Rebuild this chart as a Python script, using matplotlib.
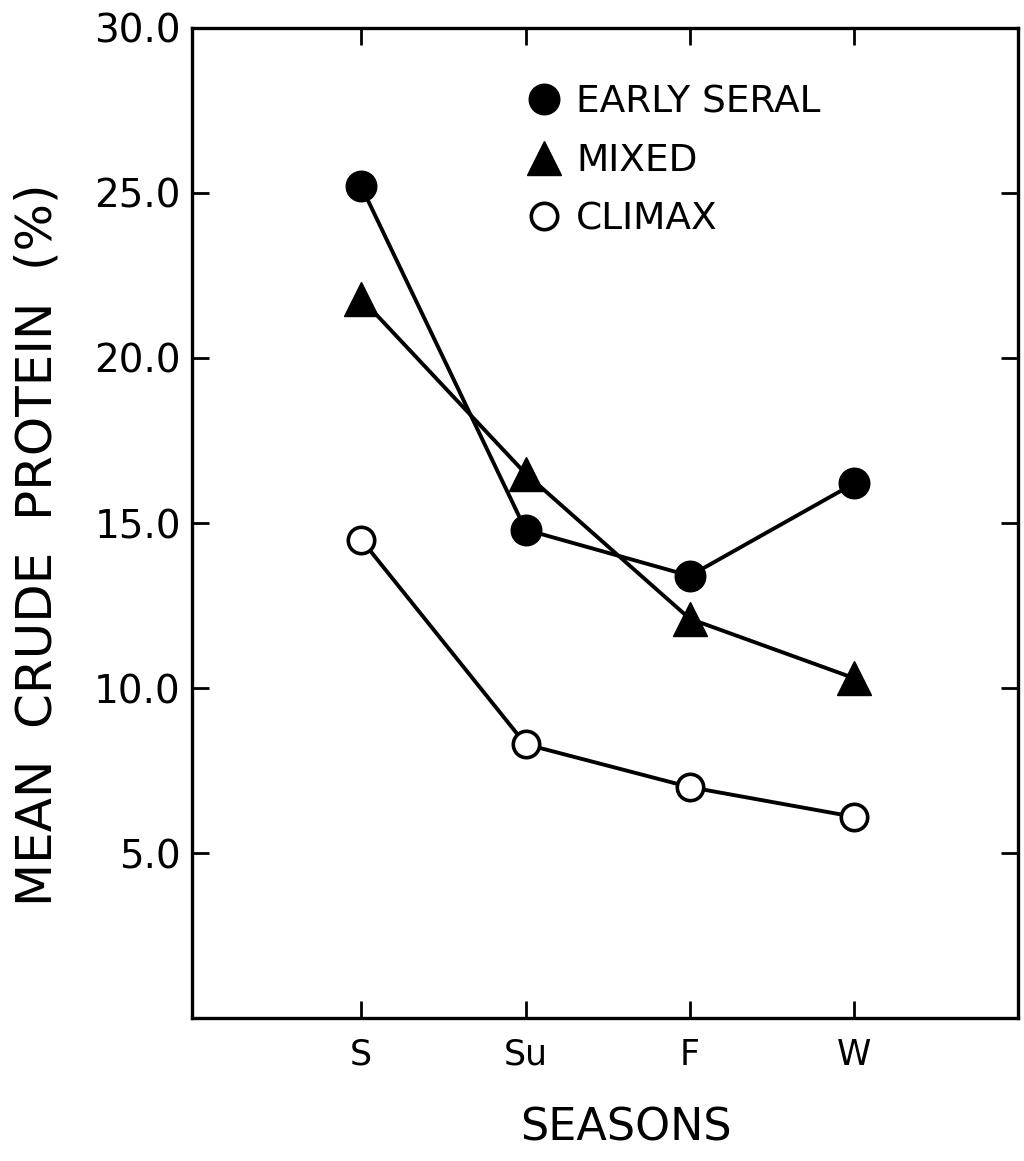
import numpy as np
import matplotlib.pyplot as plt
from matplotlib.lines import Line2D

# Сезони та середній вміст сирого протеїну (%)
seasons = ['S', 'Su', 'F', 'W']
early_seral = [25.2, 14.8, 13.4, 16.2]
mixed = [21.8, 16.5, 12.1, 10.3]
climax = [14.5, 8.3, 7.0, 6.1]

y_ticks = [5.0, 10.0, 15.0, 20.0, 25.0, 30.0]

plt.rcParams['font.family'] = ['DejaVu Sans']

fig = plt.figure(figsize=(10.24, 11.61), dpi=100)
ax = fig.add_axes([0.1875, 0.123, 0.807, 0.853])

x = np.arange(1, len(seasons) + 1)
lw = 2.8
ax.plot(x, early_seral, color='black', lw=lw, marker='o', ms=22,
        mfc='black', mec='black', zorder=3)
ax.plot(x, mixed, color='black', lw=lw, marker='^', ms=24,
        mfc='black', mec='black', zorder=3)
ax.plot(x, climax, color='black', lw=lw, marker='o', ms=19,
        mfc='white', mec='black', mew=2.6, zorder=3)

ax.set_xlim(-0.03, 5.0)
ax.set_ylim(0, 30)
ax.set_xticks(x)
ax.set_xticklabels(seasons, fontsize=25)
ax.set_yticks(y_ticks)
ax.set_yticklabels([f'{v:.1f}' for v in y_ticks], fontsize=28)

ax.tick_params(direction='in', length=12, width=2, top=True, right=True,
               labeltop=False, labelright=False)
ax.tick_params(axis='x', pad=14)
ax.tick_params(axis='y', pad=8)
for s in ax.spines.values():
    s.set_linewidth(2.4)

ax.set_xlabel('SEASONS', fontsize=32)
ax.xaxis.set_label_coords(0.525, -0.089)
ax.set_ylabel('MEAN  CRUDE  PROTEIN  (%)', fontsize=36)
ax.yaxis.set_label_coords(-0.158, 0.478)

# Легенда без рамки, лише маркери
handles = [
    Line2D([], [], ls='none', marker='o', ms=22, mfc='black', mec='black'),
    Line2D([], [], ls='none', marker='^', ms=24, mfc='black', mec='black'),
    Line2D([], [], ls='none', marker='o', ms=19, mfc='white', mec='black', mew=2.6),
]
labels = ['EARLY SERAL', 'MIXED', 'CLIMAX']
ax.legend(handles, labels, loc='upper left', bbox_to_anchor=(0.39, 0.958),
          frameon=False, fontsize=27, handlelength=0.8, handletextpad=0.45,
          labelspacing=0.6, borderaxespad=0)

fig.savefig('out.png', dpi=100)
